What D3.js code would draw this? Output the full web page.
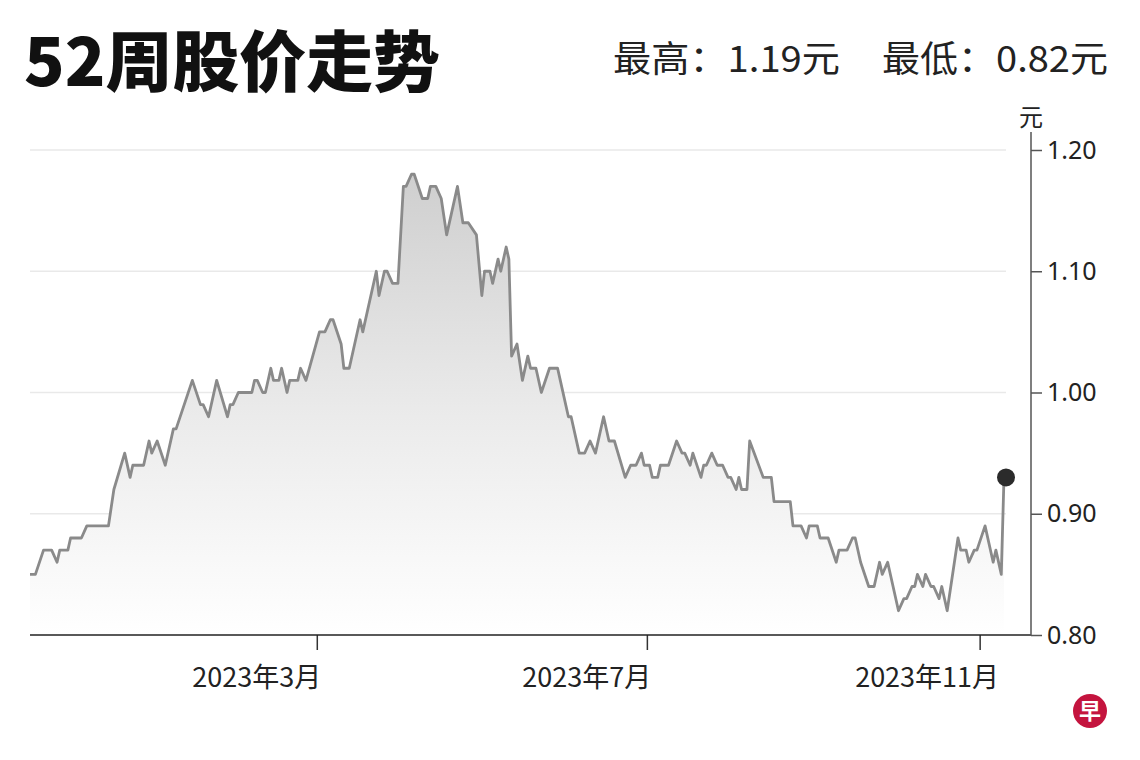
<!DOCTYPE html>
<html>
<head>
<meta charset="utf-8">
<script src="https://cdn.jsdelivr.net/npm/d3@7"></script>
<style>
  html, body { margin: 0; padding: 0; background: #fff; }
  svg { display: block; }
  text { font-family: "Noto Sans CJK SC", "Noto Sans", sans-serif; }
</style>
</head>
<body>
<svg id="chart" width="1140" height="760"></svg>
<script>
// ---------------- data ----------------
const titleText = "52周股价走势";
const highText = "最高：1.19元";
const lowText = "最低：0.82元";
const unitText = "元";

const dates = [
  "2022-11-15","2022-11-17","2022-11-20","2022-11-23","2022-11-25","2022-11-26","2022-11-29","2022-11-30",
  "2022-12-04","2022-12-06","2022-12-14","2022-12-16","2022-12-20","2022-12-22","2022-12-23","2022-12-27",
  "2022-12-29","2022-12-30","2023-01-01","2023-01-04","2023-01-07","2023-01-08","2023-01-14","2023-01-17",
  "2023-01-18","2023-01-20","2023-01-23","2023-01-27","2023-01-28","2023-01-29","2023-01-31","2023-02-05",
  "2023-02-06","2023-02-07","2023-02-09","2023-02-10","2023-02-12","2023-02-13","2023-02-15","2023-02-16",
  "2023-02-18","2023-02-19","2023-02-22","2023-02-23","2023-02-25","2023-03-02","2023-03-04","2023-03-06",
  "2023-03-07","2023-03-10","2023-03-11","2023-03-13","2023-03-17","2023-03-18","2023-03-23","2023-03-24",
  "2023-03-26","2023-03-27","2023-03-29","2023-03-31","2023-04-02","2023-04-03","2023-04-05","2023-04-06",
  "2023-04-09","2023-04-11","2023-04-12","2023-04-14","2023-04-16","2023-04-18","2023-04-22","2023-04-24",
  "2023-04-26","2023-04-29","2023-05-01","2023-05-02","2023-05-04","2023-05-05","2023-05-07","2023-05-08",
  "2023-05-10","2023-05-11","2023-05-12","2023-05-14","2023-05-16","2023-05-18","2023-05-19","2023-05-21",
  "2023-05-23","2023-05-26","2023-05-29","2023-05-30","2023-06-02","2023-06-03","2023-06-06","2023-06-08",
  "2023-06-10","2023-06-12","2023-06-15","2023-06-17","2023-06-19","2023-06-23","2023-06-25","2023-06-27",
  "2023-06-29","2023-06-30","2023-07-02","2023-07-03","2023-07-05","2023-07-06","2023-07-09","2023-07-12",
  "2023-07-14","2023-07-15","2023-07-17","2023-07-18","2023-07-21","2023-07-22","2023-07-23","2023-07-25",
  "2023-07-27","2023-07-29","2023-07-31","2023-08-01","2023-08-03","2023-08-04","2023-08-05","2023-08-07",
  "2023-08-08","2023-08-13","2023-08-16","2023-08-17","2023-08-23","2023-08-24","2023-08-27","2023-08-29",
  "2023-08-30","2023-09-02","2023-09-03","2023-09-06","2023-09-09","2023-09-10","2023-09-13","2023-09-15",
  "2023-09-16","2023-09-18","2023-09-21","2023-09-23","2023-09-25","2023-09-26","2023-09-28","2023-09-30",
  "2023-10-02","2023-10-04","2023-10-05","2023-10-07","2023-10-08","2023-10-09","2023-10-11","2023-10-12",
  "2023-10-14","2023-10-15","2023-10-17","2023-10-18","2023-10-20","2023-10-24","2023-10-25","2023-10-27",
  "2023-10-28","2023-10-30","2023-10-31","2023-11-03","2023-11-06","2023-11-07","2023-11-09","2023-11-10"
];

const prices = [
  0.85,0.85,0.87,0.87,0.86,0.87,0.87,0.88,
  0.88,0.89,0.89,0.92,0.95,0.93,0.94,0.94,
  0.96,0.95,0.96,0.94,0.97,0.97,1.01,0.99,
  0.99,0.98,1.01,0.98,0.99,0.99,1.00,1.00,
  1.01,1.01,1.00,1.00,1.02,1.01,1.01,1.02,
  1.00,1.01,1.01,1.02,1.01,1.05,1.05,1.06,
  1.06,1.04,1.02,1.02,1.06,1.05,1.10,1.08,
  1.10,1.10,1.09,1.09,1.17,1.17,1.18,1.18,
  1.16,1.16,1.17,1.17,1.16,1.13,1.17,1.14,
  1.14,1.13,1.08,1.10,1.10,1.09,1.11,1.10,
  1.12,1.11,1.03,1.04,1.01,1.03,1.02,1.02,
  1.00,1.02,1.02,1.01,0.98,0.98,0.95,0.95,
  0.96,0.95,0.98,0.96,0.96,0.93,0.94,0.94,
  0.95,0.94,0.94,0.93,0.93,0.94,0.94,0.96,
  0.95,0.95,0.94,0.95,0.93,0.94,0.94,0.95,
  0.94,0.94,0.93,0.93,0.92,0.93,0.92,0.92,
  0.96,0.93,0.93,0.91,0.91,0.89,0.89,0.88,
  0.89,0.89,0.88,0.88,0.86,0.87,0.87,0.88,
  0.88,0.86,0.84,0.84,0.86,0.85,0.86,0.84,
  0.82,0.83,0.83,0.84,0.84,0.85,0.84,0.85,
  0.84,0.84,0.83,0.84,0.82,0.88,0.87,0.87,
  0.86,0.87,0.87,0.89,0.86,0.87,0.85,0.93
];

const yTicks = [0.80, 0.90, 1.00, 1.10, 1.20];
const xTickDates = ["2023-03-01", "2023-07-01", "2023-11-01"];
const xTickLabels = ["2023年3月", "2023年7月", "2023年11月"];

// ---------------- chart ----------------
const parse = d3.timeParse("%Y-%m-%d");
const series = dates.map((d, i) => ({ date: parse(d), value: prices[i] }));

const svg = d3.select("#chart");
const plotLeft = 30, plotRight = 1004, axisX = 1031, gridRight = 1006;
const plotTop = 150, plotBottom = 635;

const x = d3.scaleTime()
  .domain(d3.extent(series, d => d.date))
  .range([plotLeft, plotRight]);
const y = d3.scaleLinear()
  .domain([0.80, 1.20])
  .range([plotBottom, plotTop]);

// gradient
const defs = svg.append("defs");
const grad = defs.append("linearGradient")
  .attr("id", "areaGrad")
  .attr("gradientUnits", "userSpaceOnUse")
  .attr("x1", 0).attr("x2", 0)
  .attr("y1", y(1.20)).attr("y2", y(0.80));
grad.append("stop").attr("offset", "0").attr("stop-color", "#cccccc");
grad.append("stop").attr("offset", "0.55").attr("stop-color", "#ebebeb");
grad.append("stop").attr("offset", "1").attr("stop-color", "#ffffff");

// gridlines
svg.append("g")
  .selectAll("line")
  .data(yTicks.filter(t => t > 0.8))
  .join("line")
  .attr("x1", plotLeft).attr("x2", gridRight)
  .attr("y1", d => y(d)).attr("y2", d => y(d))
  .attr("stroke", "#e9e9e9")
  .attr("stroke-width", 1.5);

// area
const area = d3.area()
  .x(d => x(d.date))
  .y0(y(0.80))
  .y1(d => y(d.value));
svg.append("path")
  .datum(series)
  .attr("d", area)
  .attr("fill", "url(#areaGrad)");

// line
const line = d3.line()
  .x(d => x(d.date))
  .y(d => y(d.value));
svg.append("path")
  .datum(series)
  .attr("d", line)
  .attr("fill", "none")
  .attr("stroke", "#8a8a8a")
  .attr("stroke-width", 2.8)
  .attr("stroke-linejoin", "round");

// end dot
const last = series[series.length - 1];
svg.append("circle")
  .attr("cx", x(last.date) + 2)
  .attr("cy", y(last.value))
  .attr("r", 9)
  .attr("fill", "#2b2b2b");

// bottom axis
const xAxis = d3.axisBottom(x)
  .tickValues(xTickDates.map(parse))
  .tickSize(15)
  .tickPadding(18)
  .tickFormat((d, i) => xTickLabels[i]);
const gx = svg.append("g")
  .attr("transform", `translate(0,${plotBottom})`)
  .call(xAxis);
gx.select(".domain").remove();
gx.append("line")
  .attr("x1", plotLeft).attr("x2", axisX)
  .attr("y1", 0).attr("y2", 0)
  .attr("stroke", "#222").attr("stroke-width", 1.5);
gx.selectAll(".tick line").attr("stroke", "#333").attr("stroke-width", 1.5);
gx.selectAll(".tick text")
  .attr("fill", "#222")
  .attr("font-size", 27)
  .attr("text-anchor", "start")
  .attr("dx", -125)
  .style("font-family", "'Noto Sans CJK SC', sans-serif");

// right axis
const yAxis = d3.axisRight(y)
  .tickValues(yTicks)
  .tickSize(11)
  .tickPadding(5)
  .tickFormat(d3.format(".2f"));
const gy = svg.append("g")
  .attr("transform", `translate(${axisX},0)`)
  .call(yAxis);
gy.select(".domain").remove();
gy.append("line")
  .attr("x1", 0).attr("x2", 0)
  .attr("y1", plotTop - 18).attr("y2", plotBottom)
  .attr("stroke", "#555").attr("stroke-width", 1.5);
gy.selectAll(".tick line").attr("stroke", "#555").attr("stroke-width", 1.5);
gy.selectAll(".tick text")
  .attr("fill", "#222")
  .attr("font-size", 25)
  .style("font-family", "'Noto Sans', sans-serif");

// unit label
svg.append("text")
  .attr("x", axisX).attr("y", 126)
  .attr("text-anchor", "middle")
  .attr("font-size", 24)
  .attr("fill", "#222")
  .text(unitText);

// title
svg.append("text")
  .attr("x", 24).attr("y", 86)
  .attr("font-size", 66)
  .attr("font-weight", 900)
  .attr("fill", "#111")
  .attr("textLength", 416)
  .attr("lengthAdjust", "spacingAndGlyphs")
  .text(titleText);

// header stats
svg.append("text")
  .attr("x", 613).attr("y", 72)
  .attr("font-size", 36)
  .attr("fill", "#222")
  .attr("textLength", 227)
  .attr("lengthAdjust", "spacingAndGlyphs")
  .text(highText);
svg.append("text")
  .attr("x", 882).attr("y", 72)
  .attr("font-size", 36)
  .attr("fill", "#222")
  .attr("textLength", 226)
  .attr("lengthAdjust", "spacingAndGlyphs")
  .text(lowText);

// logo
const logo = svg.append("g").attr("transform", "translate(1090,711)");
logo.append("circle").attr("r", 17).attr("fill", "#c4143e");
logo.append("text")
  .attr("text-anchor", "middle")
  .attr("dy", "0.36em")
  .attr("font-size", 22)
  .attr("font-weight", 700)
  .attr("fill", "#fff")
  .text("早");
</script>
</body>
</html>
